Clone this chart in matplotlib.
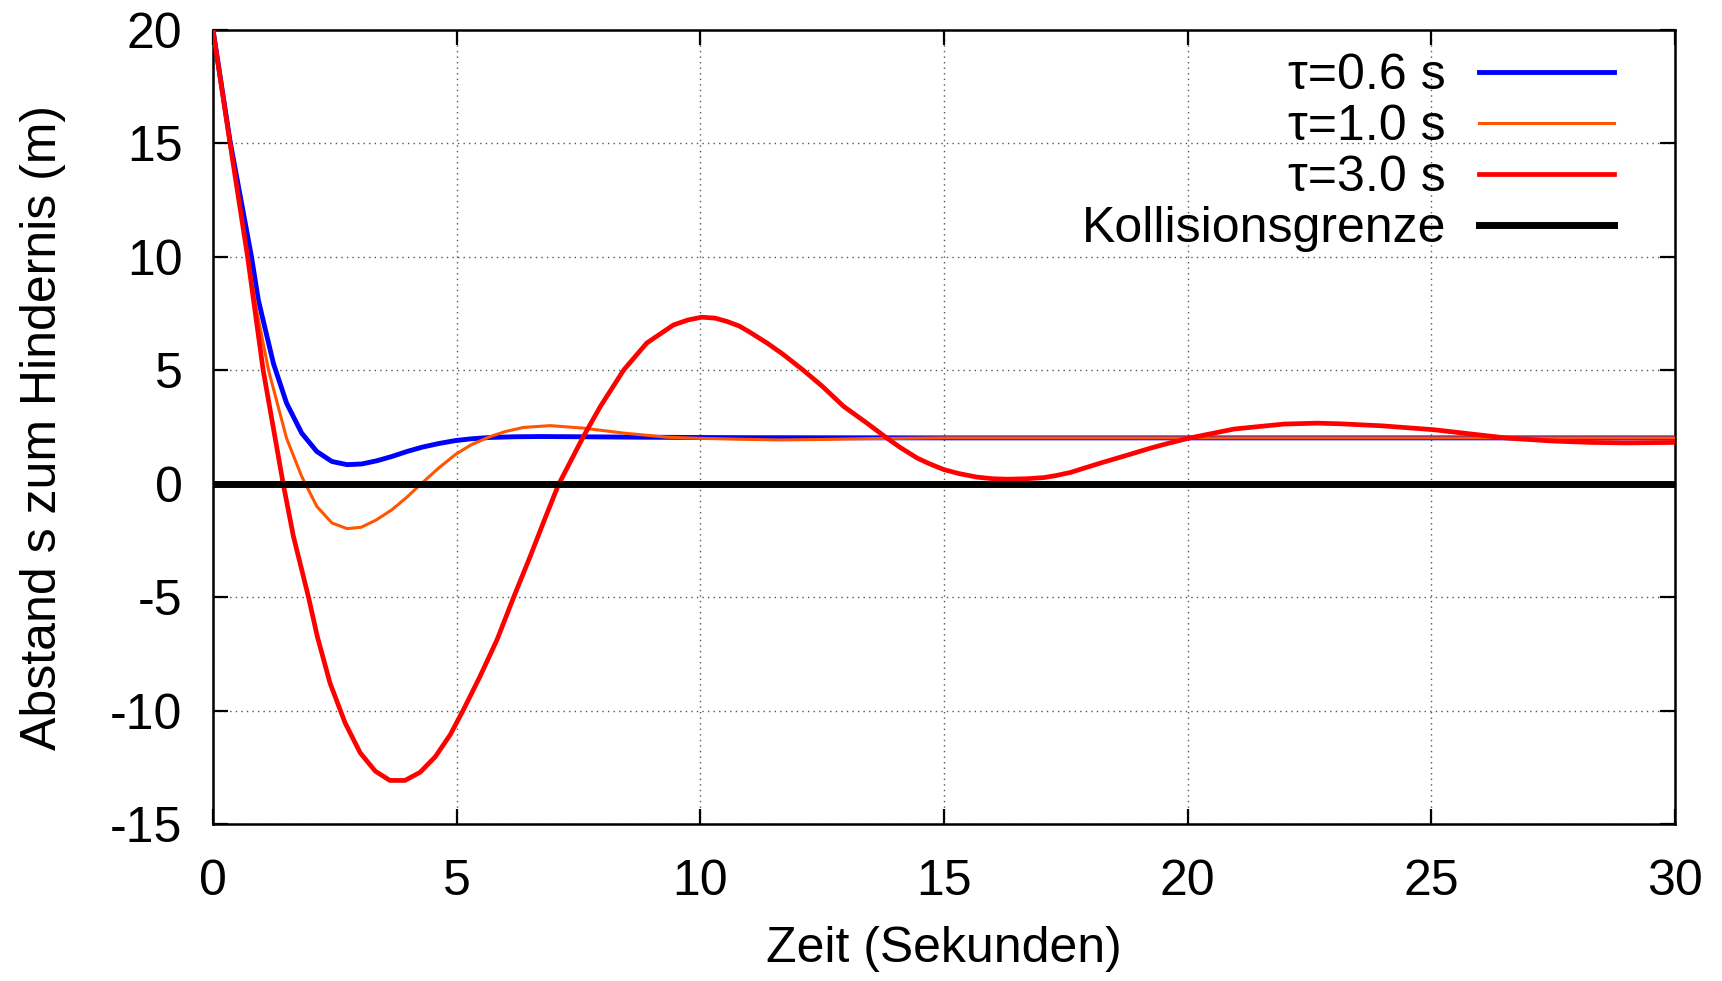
import matplotlib
matplotlib.use("Agg")
import matplotlib.pyplot as plt

plt.rcParams['font.family'] = ['Liberation Sans', 'DejaVu Sans']
plt.rcParams['axes.unicode_minus'] = False

# --- data ---
t_blue = [0, 0.35, 0.79, 0.93, 1.24, 1.51, 1.82, 2.13, 2.44, 2.75, 3.05, 3.36, 3.67,
          3.98, 4.29, 4.63, 4.97, 5.3, 5.69, 6.2, 6.71, 7.5, 8.77, 10.8, 15, 30]
s_blue = [20, 15.1, 10.0, 8.1, 5.3, 3.55, 2.23, 1.42, 0.98, 0.84, 0.87, 1.01, 1.2,
          1.42, 1.61, 1.77, 1.9, 1.98, 2.04, 2.07, 2.08, 2.07, 2.05, 2.03, 2.02, 2.02]

t_orange = [0, 0.35, 0.71, 0.9, 1.14, 1.51, 1.82, 2.13, 2.44, 2.75, 3.04, 3.34, 3.67,
            3.98, 4.29, 4.63, 4.97, 5.3, 5.69, 6.0, 6.37, 6.92, 7.6, 8.43, 9.32, 10.0,
            10.82, 11.6, 12.5, 13.5, 15, 30]
s_orange = [20, 15, 10, 7.6, 5.0, 2.0, 0.32, -1.0, -1.73, -1.98, -1.92, -1.61, -1.15,
            -0.59, 0.03, 0.69, 1.28, 1.72, 2.08, 2.3, 2.48, 2.56, 2.45, 2.23, 2.05, 2.0,
            1.96, 1.93, 1.95, 1.99, 2.02, 2.02]

t_red = [0, 0.35, 0.71, 1.03, 1.44, 1.65, 1.82, 1.96, 2.14, 2.4, 2.71, 3.02, 3.33,
         3.63, 3.94, 4.25, 4.56, 4.87, 5.14, 5.48, 5.83, 6.17, 6.51, 6.8, 7.09, 7.6,
         7.95, 8.43, 8.9, 9.45, 9.75, 10.03, 10.3, 10.55, 10.8, 11.0, 11.37, 11.7,
         12.12, 12.5, 12.94, 13.4, 13.83, 14.1, 14.45, 14.7, 15.0, 15.3, 15.68, 16.0,
         16.3, 16.7, 17.05, 17.3, 17.6, 18.21, 18.7, 19.24, 19.6, 20.03, 20.95, 21.98,
         22.66, 23.14, 24.0, 25.05, 26.56, 27.5, 28.28, 29.0, 30]
s_red = [20, 15, 10, 5, 0, -2.32, -3.79, -5.0, -6.73, -8.78, -10.54, -11.86, -12.67,
         -13.08, -13.08, -12.72, -12.04, -11.06, -9.96, -8.49, -6.87, -5.0, -3.2, -1.6,
         -0.04, 2.08, 3.41, 5.02, 6.2, 7.0, 7.22, 7.34, 7.3, 7.15, 6.95, 6.7, 6.2, 5.7,
         4.99, 4.3, 3.41, 2.7, 2.01, 1.6, 1.13, 0.88, 0.62, 0.45, 0.29, 0.22,
         0.2, 0.22, 0.27, 0.36, 0.5, 0.91, 1.22, 1.57, 1.78, 2.01, 2.41, 2.63,
         2.67, 2.64, 2.55, 2.38, 2.01, 1.88, 1.82, 1.8, 1.82]

t_limit = [0, 30]
s_limit = [0, 0]

labels = ["τ=0.6 s", "τ=1.0 s", "τ=3.0 s", "Kollisionsgrenze"]
x_ticks = [0, 5, 10, 15, 20, 25, 30]
y_ticks = [-15, -10, -5, 0, 5, 10, 15, 20]
x_label = "Zeit (Sekunden)"
y_label = "Abstand s zum Hindernis (m)"

# --- figure ---
W, H = 1722, 981
fig = plt.figure(figsize=(W / 100, H / 100), dpi=100)
ax = fig.add_axes([213 / W, 1 - 824 / H, (1675 - 213) / W, (824 - 30) / H])

ax.plot(t_blue, s_blue, color='#0000ff', lw=3.5, label=labels[0], zorder=3)
ax.plot(t_orange, s_orange, color='#ff5500', lw=2.2, label=labels[1], zorder=4)
ax.plot(t_red, s_red, color='#ff0000', lw=3.4, label=labels[2], zorder=5)
ax.plot(t_limit, s_limit, color='black', lw=5, label=labels[3], zorder=6)

ax.set_xlim(0, 30)
ax.set_ylim(-15, 20)
ax.set_xticks(x_ticks)
ax.set_yticks(y_ticks)
ax.set_xticklabels([str(v) for v in x_ticks])
ax.set_yticklabels([str(v) for v in y_ticks])

ax.tick_params(direction='in', length=11, width=1.6, top=True, right=True,
               labelsize=36, colors='black')
ax.tick_params(axis='x', pad=25)
ax.tick_params(axis='y', pad=22)
for sp in ax.spines.values():
    sp.set_linewidth(1.8)

ax.grid(True, linestyle=(0, (1, 3)), color='#555555', lw=1.0, zorder=1)
ax.set_axisbelow(True)

ax.set_xlabel(x_label, fontsize=36, labelpad=15)
ax.set_ylabel(y_label, fontsize=36, labelpad=32)

ax.legend(loc='upper right', bbox_to_anchor=(1614 / W, 1 - 53 / H),
          bbox_transform=fig.transFigure, markerfirst=False, frameon=False,
          borderpad=0, borderaxespad=0, handlelength=2.7, handletextpad=0.66,
          labelspacing=0.1, fontsize=36)

fig.savefig("out.png", dpi=100)
